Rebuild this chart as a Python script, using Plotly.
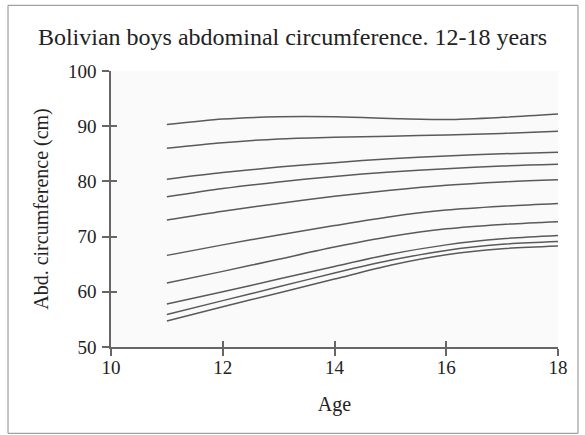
import plotly.graph_objects as go

ages = [11, 12, 13, 14, 15, 16, 17, 18]

p1 = [90.3, 91.3, 91.7, 91.7, 91.4, 91.2, 91.6, 92.2]
p2 = [86.0, 87.0, 87.7, 88.0, 88.2, 88.4, 88.7, 89.1]
p3 = [80.4, 81.6, 82.6, 83.4, 84.1, 84.6, 85.0, 85.3]
p4 = [77.2, 78.7, 79.9, 80.9, 81.7, 82.3, 82.8, 83.1]
p5 = [73.0, 74.6, 76.0, 77.3, 78.4, 79.3, 79.9, 80.3]
p6 = [66.6, 68.5, 70.3, 72.0, 73.6, 74.8, 75.5, 76.0]
p7 = [61.6, 63.7, 65.9, 68.1, 70.0, 71.4, 72.2, 72.7]
p8 = [57.8, 60.0, 62.3, 64.6, 66.8, 68.5, 69.6, 70.2]
p9 = [55.9, 58.4, 60.9, 63.4, 65.7, 67.5, 68.6, 69.1]
p10 = [54.7, 57.3, 59.8, 62.3, 64.8, 66.7, 67.8, 68.3]

series = [p1, p2, p3, p4, p5, p6, p7, p8, p9, p10]

x_ticks = [10, 12, 14, 16, 18]
y_ticks = [50, 60, 70, 80, 90, 100]

FONT = "Liberation Serif, Times New Roman, serif"
LINE = "#5a5a5a"

fig = go.Figure()
for s in series:
    fig.add_trace(go.Scatter(x=ages, y=s, mode="lines",
                             line=dict(color=LINE, width=1.5, shape="spline", smoothing=0.8),
                             showlegend=False, hoverinfo="skip"))

axis_common = dict(showgrid=False, zeroline=False, linecolor="#666", linewidth=1.5,
                   tickcolor="#666", tickwidth=1.5, ticklen=7,
                   tickfont=dict(family=FONT, size=19, color="#222"))

fig.update_layout(
    width=585, height=435,
    margin=dict(l=111, r=27, t=71, b=88),
    paper_bgcolor="white",
    plot_bgcolor="#fafafa",
    font=dict(family=FONT, color="#222"),
    title=dict(text="Bolivian boys abdominal circumference. 12-18 years",
               x=0.5, xanchor="center", y=0.915, yanchor="middle",
               font=dict(family=FONT, size=24, color="#222")),
    xaxis=dict(range=[10, 18], tickvals=x_ticks, ticks="outside", showline=True,
               title=dict(text="Age", standoff=20, font=dict(family=FONT, size=20)),
               ticklabelstandoff=-5, **axis_common),
    yaxis=dict(range=[50, 100], tickvals=y_ticks, ticks="outside", showline=True,
               title=dict(text="Abd. circumference (cm)", standoff=14,
                          font=dict(family=FONT, size=20)),
               ticklabelstandoff=2, **axis_common),
    xaxis2=dict(range=[10, 18], tickvals=x_ticks, ticks="inside", showline=False,
                overlaying="x", showticklabels=False, showgrid=False, zeroline=False,
                tickcolor="#666", tickwidth=1.5, ticklen=6, anchor="y"),
    yaxis2=dict(range=[50, 100], tickvals=y_ticks, ticks="inside", showline=False,
                overlaying="y", showticklabels=False, showgrid=False, zeroline=False,
                tickcolor="#666", tickwidth=1.5, ticklen=6, anchor="x"),
)

# dummy trace to activate the secondary (inside tick) axes
fig.add_trace(go.Scatter(x=[None], y=[None], xaxis="x2", yaxis="y2",
                         showlegend=False, hoverinfo="skip"))

# outer frame around the whole figure
fig.add_shape(type="rect", xref="paper", yref="paper",
              x0=-0.2304, x1=1.0447, y0=-0.3127, y1=1.238,
              line=dict(color="#8a8a8a", width=1), fillcolor="rgba(0,0,0,0)", layer="below")

fig.write_html("out.html")
